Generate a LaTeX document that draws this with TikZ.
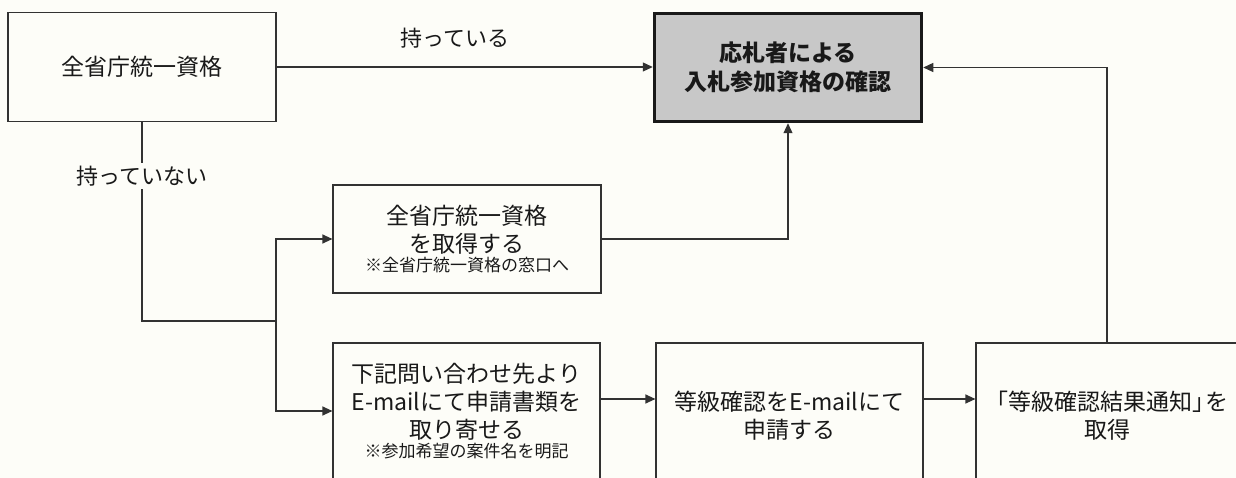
\documentclass[tikz,border=0pt]{standalone}
\usepackage{fontspec}
\setmainfont{Noto Sans CJK JP}
\usetikzlibrary{arrows.meta}
\definecolor{paper}{RGB}{253,253,248}
\definecolor{ink}{RGB}{50,50,50}
\definecolor{shade}{RGB}{200,200,200}
\newcommand{\notesize}{\fontsize{17}{20}\selectfont}

\begin{document}
\begin{tikzpicture}
	[x=1pt,y=-1pt,
	box/.style={draw=ink,line width=1.2pt,fill=paper,align=center,inner sep=0pt,
		text=black!90,font=\fontsize{23}{28}\selectfont},
	goal/.style={draw=black!90,line width=3.5pt,fill=shade,align=center,inner sep=0pt,
		text=black!90,font=\fontsize{23}{29}\selectfont\bfseries},
	lbl/.style={inner sep=3pt,text=black!90,font=\fontsize{22}{26}\selectfont},
	link/.style={draw=ink,line width=1.2pt},
	arr/.style={link,-{Triangle[length=10pt,width=9pt]}}]
	\fill[paper] (0,0) rectangle (1236,478);
	\useasboundingbox (0,0) rectangle (1236,478);
	\clip (0,0) rectangle (1236,478);

	\node[box,minimum width=268pt,minimum height=109pt] (qual) at (142,67) {全省庁統一資格};
	\node[goal,minimum width=267pt,minimum height=108pt] (check) at (788,67.5) {応札者による\\入札参加資格の確認};
	\node[box,minimum width=268pt,minimum height=108pt] (get) at (467,239)
		{全省庁統一資格\\を取得する\\[-9pt]{\notesize ※全省庁統一資格の窓口へ}};
	\node[box,minimum width=267pt,minimum height=136pt] (req) at (466.5,411)
		{下記問い合わせ先より\\E-mailにて申請書類を\\取り寄せる\\[-9pt]{\notesize ※参加希望の案件名を明記}};
	\node[box,minimum width=267pt,minimum height=146pt] (apply) at (789.5,416) {等級確認をE-mailにて\\申請する};
	\node[box,minimum width=262pt,minimum height=146pt] (notice) at (1107,416) {「等級確認結果通知」\hspace{-0.45em}を\\取得};

	\node[lbl] (have) at (455,38) {持っている};
	\node[lbl,fill=paper] (nothave) at (142,176) {持っていない};
	\coordinate (split) at (276,321);
	\coordinate (row) at (0,399);

	\draw[arr] (qual.east) -- (check.west |- qual.east);
	\draw[link] (qual) -- (nothave);
	\draw[link] (nothave) |- (split);
	\foreach \to in {get,req}
	\draw[arr] (split) |- (\to.west);
	\draw[arr] (get.east) -| (check.south);
	\foreach \from/\to in {req/apply,apply/notice}
	\draw[arr] (\from.east |- row) -- (\to.west |- row);
	\draw[arr] (notice.north) |- (check.east);
\end{tikzpicture}
\end{document}
